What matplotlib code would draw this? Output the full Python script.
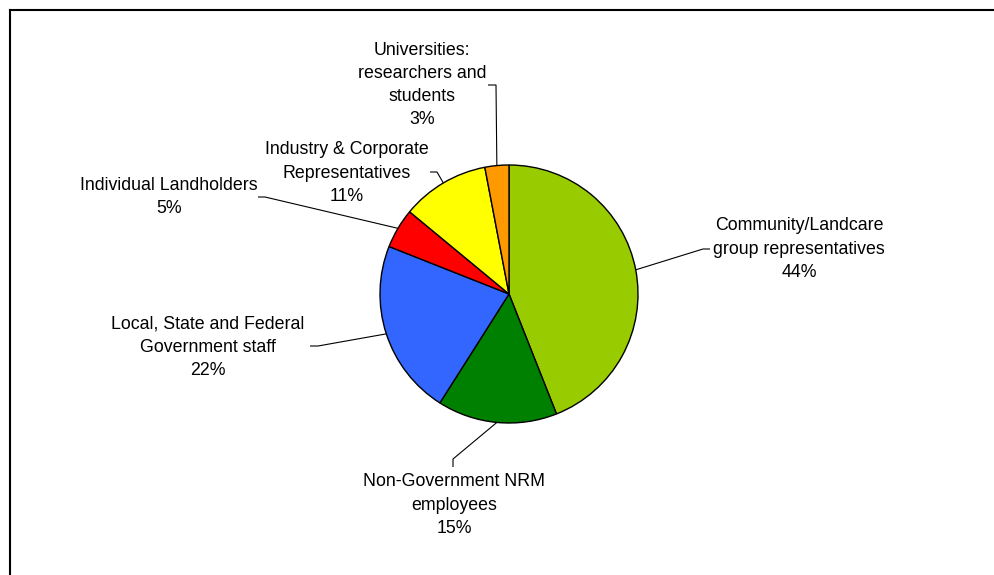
import numpy as np
import matplotlib
matplotlib.use("Agg")
import matplotlib.pyplot as plt
from matplotlib.lines import Line2D

categories = [
    "Community/Landcare\ngroup representatives",
    "Non-Government NRM\nemployees",
    "Local, State and Federal\nGovernment staff",
    "Individual Landholders",
    "Industry & Corporate\nRepresentatives",
    "Universities:\nresearchers and\nstudents",
]
values = [44, 15, 22, 5, 11, 3]
colors = ["#99CC00", "#008000", "#3366FF", "#FF0000", "#FFFF00", "#FF9900"]

W, H = 994, 575
fig = plt.figure(figsize=(W / 100, H / 100), dpi=100)
ax = fig.add_axes([0, 0, 1, 1])
ax.set_xlim(0, W)
ax.set_ylim(0, H)
ax.set_aspect("equal")
ax.axis("off")

cx, cy_px, r = 509, 294, 129
cy = H - cy_px
wedges, _ = ax.pie(values, colors=colors, startangle=90, counterclock=False,
                   center=(cx, cy), radius=r, frame=True,
                   wedgeprops=dict(edgecolor="black", linewidth=1.0))
ax.set_xlim(0, W)
ax.set_ylim(0, H)
ax.axis("off")

# label layout (pixel coords, y from top): text center, elbow start, elbow end
layout = [
    ((799, 249), (710, 249), (703, 249)),
    ((454, 505), (453, 467), (453, 459)),
    ((208, 347), (310, 346), (318, 346)),
    ((169, 197), (258, 197), (265, 197)),
    ((347, 173), (430, 172), (437, 172)),
    ((422, 85), (488, 85), (496, 85)),
]

for w, cat, v, (tc, p1, p2) in zip(wedges, categories, values, layout):
    ang = np.deg2rad((w.theta1 + w.theta2) / 2)
    ex = cx + r * np.cos(ang)
    ey = cy + r * np.sin(ang)
    xs = [p1[0], p2[0], ex]
    ys = [H - p1[1], H - p2[1], ey]
    ax.plot(xs, ys, color="black", linewidth=0.8, solid_capstyle="butt")
    ax.text(tc[0], H - tc[1], f"{cat}\n{v}%", ha="center", va="center",
            fontsize=12.8, family=["Liberation Sans", "DejaVu Sans"],
            color="#000000", linespacing=1.47, multialignment="center")

# outer frame (cropped at right and bottom)
fig.add_artist(Line2D([9.5 / W, 1.0], [1 - 9.5 / H, 1 - 9.5 / H],
                      transform=fig.transFigure, color="black", linewidth=1.5))
fig.add_artist(Line2D([9.5 / W, 9.5 / W], [0, 1 - 9.5 / H],
                      transform=fig.transFigure, color="black", linewidth=1.5))

fig.savefig("out.png", dpi=100, facecolor="white")
